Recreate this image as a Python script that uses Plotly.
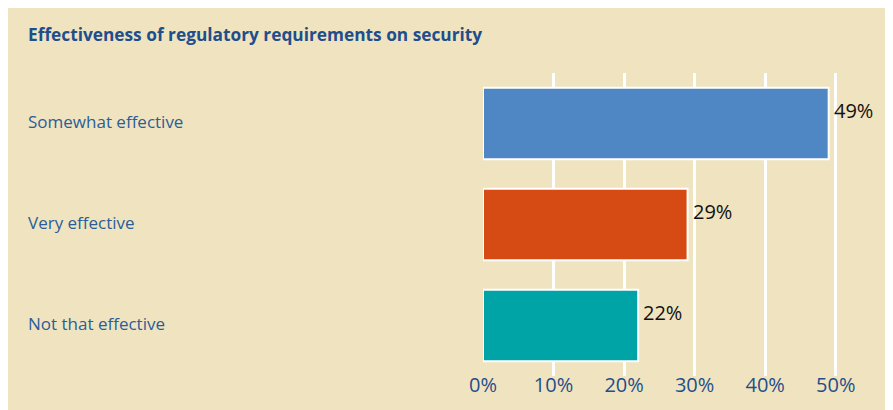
import plotly.graph_objects as go

categories = ["Somewhat effective", "Very effective", "Not that effective"]
values = [49, 29, 22]
colors = ["#4f86c4", "#d54b13", "#00a3a6"]
tick_vals = [0, 10, 20, 30, 40, 50]
tick_text = ["0%", "10%", "20%", "30%", "40%", "50%"]
title_text = "Effectiveness of regulatory requirements on security"

OFF = 8  # page body margin
W, H = 893 - OFF, 410 - OFF
L, R, T, B = 483 - OFF, 22, 73 - OFF, 29
pw = W - L - R
ph = H - T - B
BG = "#efe4bf"
BLUE = "#1f4e8c"

fig = go.Figure()
fig.add_trace(go.Bar(
    x=values, y=categories, orientation="h",
    marker=dict(color=colors, line=dict(color="white", width=2)),
    width=0.71, hoverinfo="skip",
))

# value labels, placed in the upper part next to each bar end
for c, v in zip(categories, values):
    fig.add_annotation(x=v, xref="x", y=c, yref="y", text=f"{v}%",
                       showarrow=False, xanchor="left", xshift=3, yshift=13,
                       font=dict(family="Open Sans", size=20, color="#111111"))

# category labels, left-aligned
for c in categories:
    fig.add_annotation(x=(26 - OFF - L) / pw, xref="paper", y=c, yref="y",
                       text=c, showarrow=False, xanchor="left", yshift=2,
                       font=dict(family="Open Sans", size=17, color="#2a5d9a"))

fig.add_annotation(x=(26 - OFF - L) / pw, xref="paper",
                   y=(H - (34 - OFF) - B) / ph, yref="paper",
                   text=f"<b>{title_text}</b>", showarrow=False, xanchor="left",
                   yanchor="middle",
                   font=dict(family="Open Sans", size=17.3, color=BLUE))

fig.update_layout(
    width=W, height=H,
    margin=dict(l=L, r=R, t=T, b=B),
    paper_bgcolor=BG, plot_bgcolor=BG,
    showlegend=False,
    xaxis=dict(range=[0, 55], tickvals=tick_vals, ticktext=tick_text,
               showgrid=True, gridcolor="white", gridwidth=3,
               zeroline=False, showline=False, ticklabelstandoff=-5,
               tickfont=dict(family="Open Sans", size=20, color=BLUE)),
    yaxis=dict(categoryorder="array", categoryarray=categories[::-1],
               showticklabels=False, showgrid=False, zeroline=False),
)

fig.write_html("out.html")
